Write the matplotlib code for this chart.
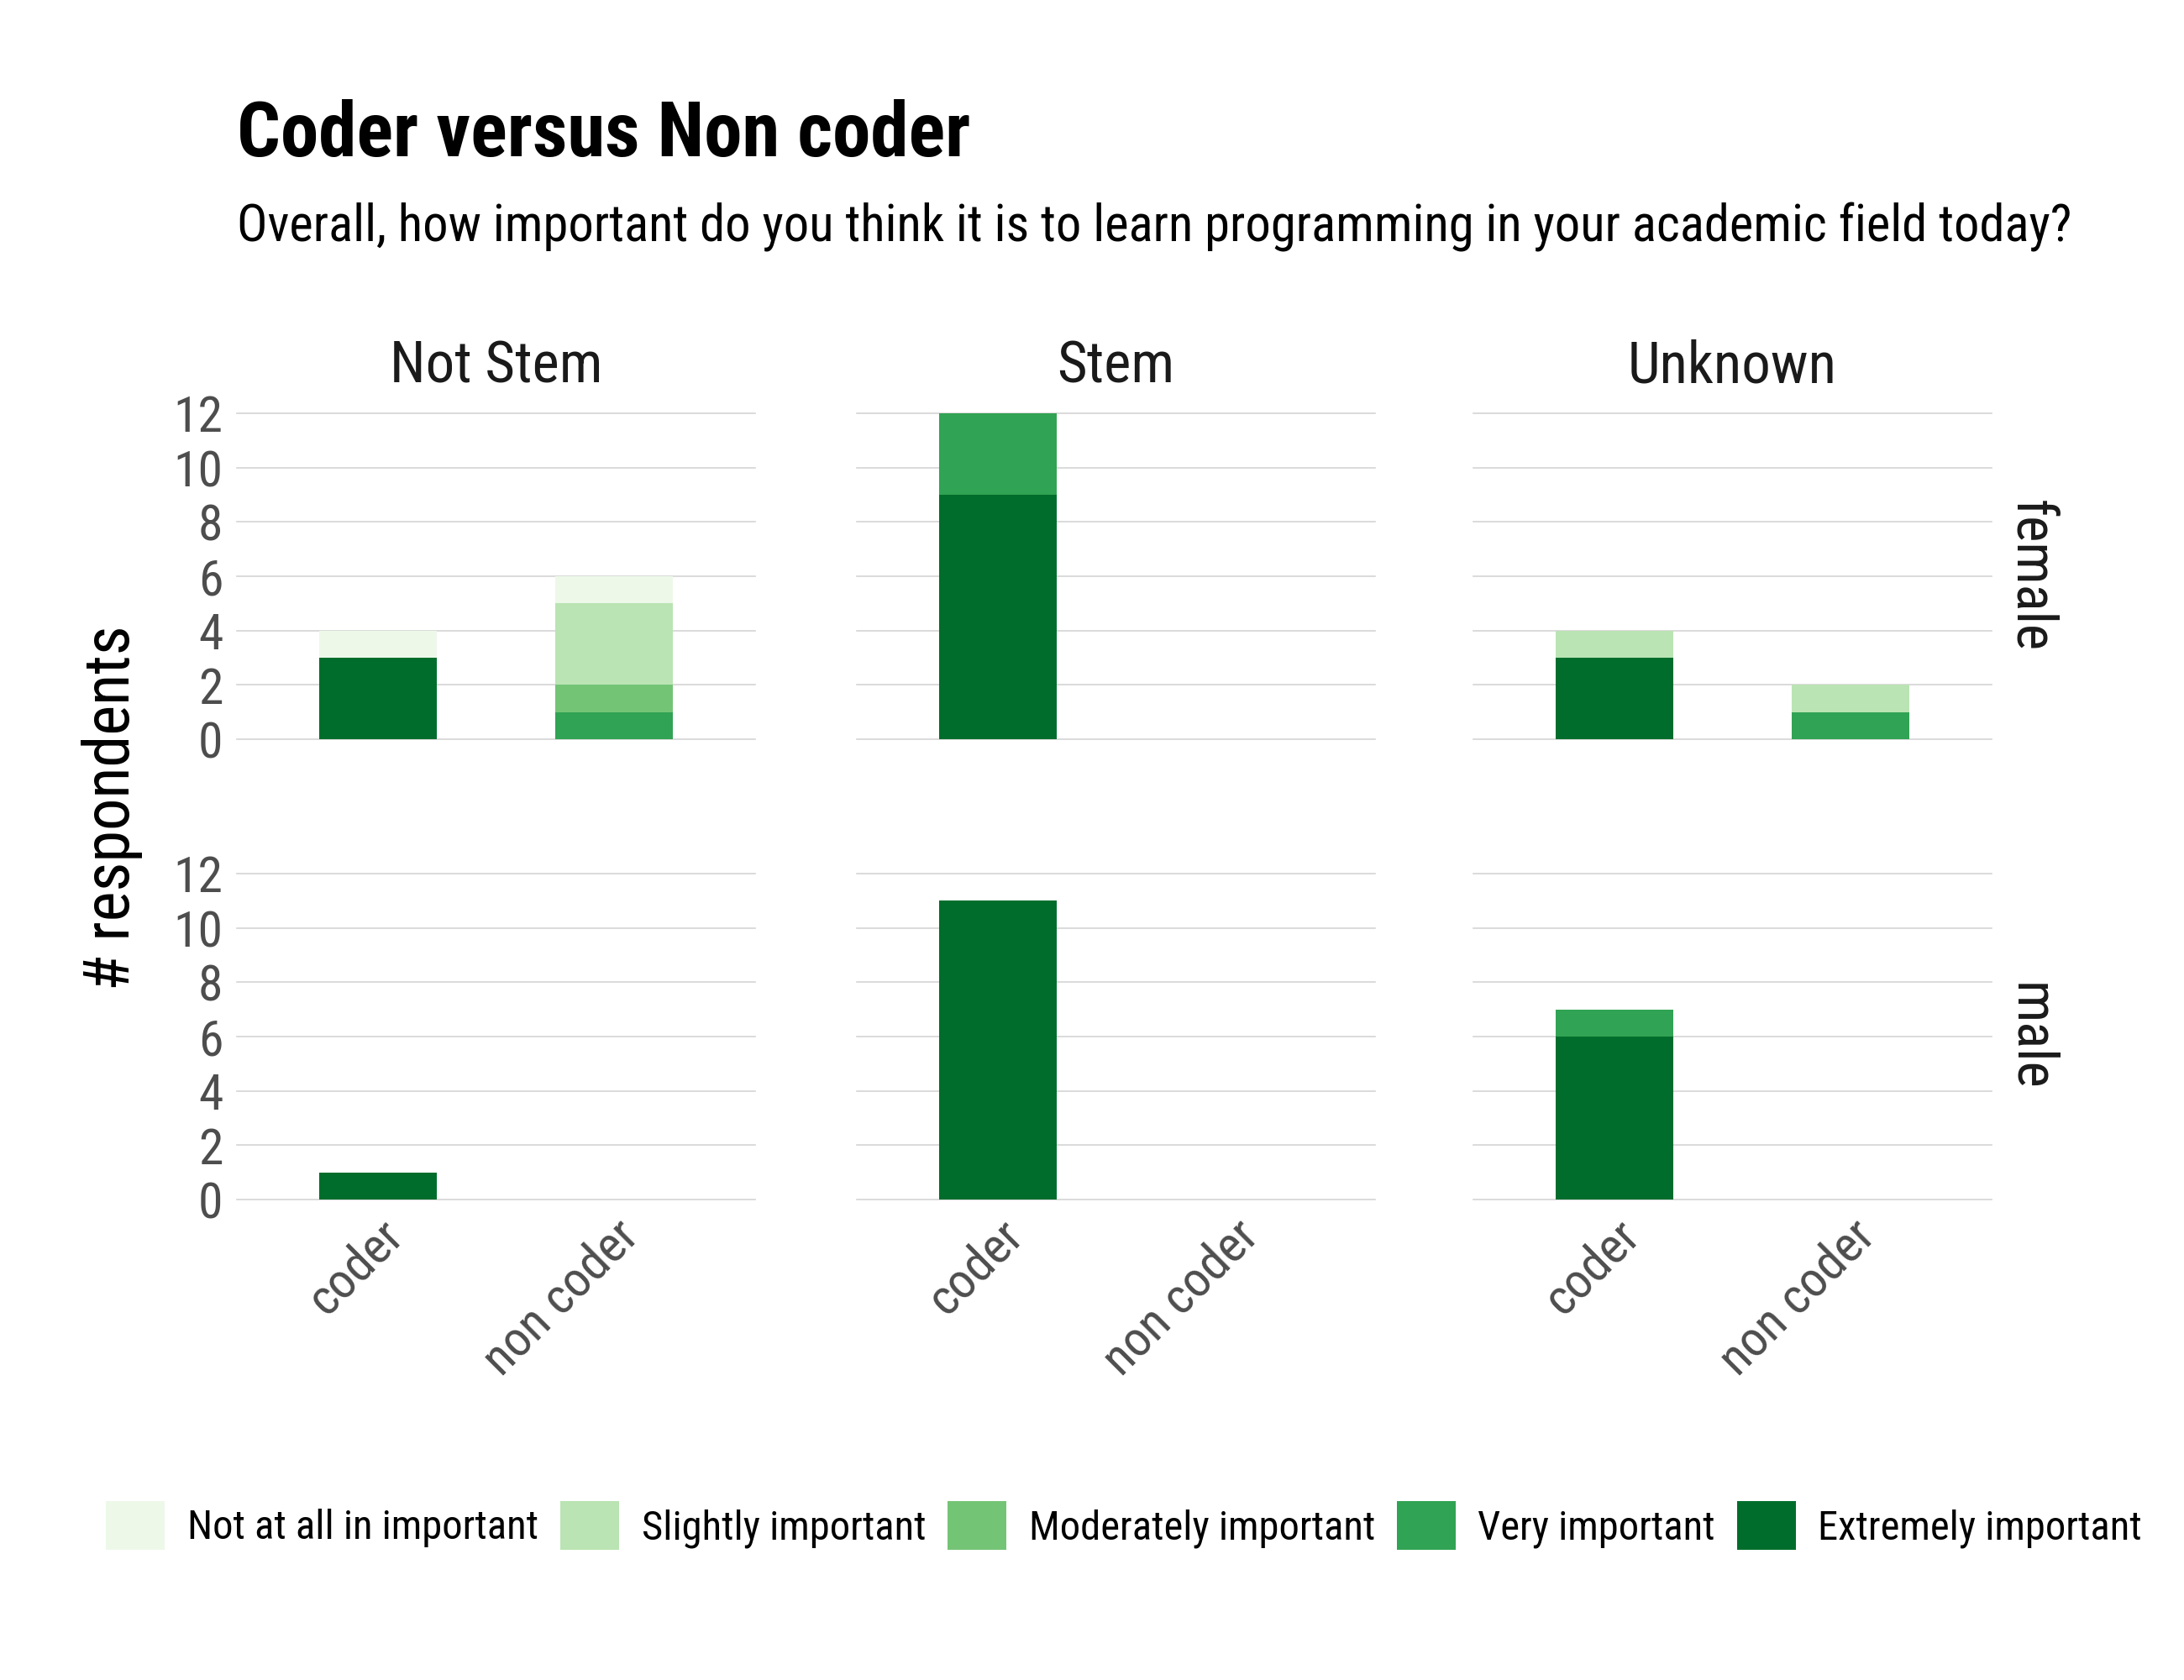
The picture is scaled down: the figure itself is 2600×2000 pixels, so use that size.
import matplotlib
matplotlib.use("Agg")
import matplotlib.pyplot as plt
from matplotlib.patches import Patch

plt.rcParams['font.family'] = ['Liberation Sans Narrow', 'Roboto Condensed', 'DejaVu Sans']

# facets and categories
fields = ['Not Stem', 'Stem', 'Unknown']
genders = ['female', 'male']
groups = ['coder', 'non coder']
levels = ['Not at all in important', 'Slightly important', 'Moderately important',
          'Very important', 'Extremely important']
colors = ['#edf8e9', '#bae4b3', '#74c476', '#31a354', '#006d2c']

# counts, ordered gender -> field -> group (coder, non coder)
not_at_all = [1, 1, 0, 0, 0, 0, 0, 0, 0, 0, 0, 0]
slightly = [0, 3, 0, 0, 1, 1, 0, 0, 0, 0, 0, 0]
moderately = [0, 1, 0, 0, 0, 0, 0, 0, 0, 0, 0, 0]
very = [0, 1, 3, 0, 0, 1, 0, 0, 0, 0, 1, 0]
extremely = [3, 0, 9, 0, 3, 0, 1, 0, 11, 0, 6, 0]
counts = [not_at_all, slightly, moderately, very, extremely]

W, H = 2600, 2000
fig = plt.figure(figsize=(26, 20), dpi=100)

col_left = [282, 1020, 1754]
panel_w = 617
row_top = [492, 1040]
panel_h = 388

for r, g in enumerate(genders):
    for c, f in enumerate(fields):
        ax = fig.add_axes([col_left[c] / W, 1 - (row_top[r] + panel_h) / H,
                           panel_w / W, panel_h / H])
        base = [0, 0]
        # stack from Extremely (bottom) up to Not at all (top)
        for li in range(len(levels) - 1, -1, -1):
            idx = (r * 3 + c) * 2
            vals = counts[li][idx:idx + 2]
            ax.bar([0, 1], vals, bottom=base, width=0.5, color=colors[li], linewidth=0)
            base = [base[0] + vals[0], base[1] + vals[1]]
        ax.set_xlim(-0.6, 1.6)
        ax.set_ylim(0, 12)
        ax.set_yticks([0, 2, 4, 6, 8, 10, 12])
        ax.grid(axis='y', color='#d4d4d4', linewidth=1.2)
        for gl in ax.get_ygridlines():
            gl.set_clip_on(False)
        ax.set_axisbelow(True)
        for s in ax.spines.values():
            s.set_visible(False)
        ax.tick_params(length=0, labelsize=43, labelcolor='#4d4d4d', pad=12)
        if c > 0:
            ax.set_yticklabels([])
        if r == 1:
            ax.set_xticks([0, 1])
            ax.set_xticklabels(groups, rotation=45, ha='right', va='top',
                               rotation_mode='anchor')
            ax.tick_params(axis='x', pad=10)
        else:
            ax.set_xticks([])
        if r == 0:
            ax.set_title(f, fontsize=49.5, color='#1a1a1a', pad=26)
        if c == 2:
            ax.text(1.0 + 45 / panel_w, 0.5, g, transform=ax.transAxes, rotation=-90,
                    fontsize=48, color='#1a1a1a', ha='center', va='center')

fig.text(133 / W, 1 - 962 / H, '# respondents', rotation=90, fontsize=55,
         ha='center', va='center', color='black')
fig.text(282 / W, 1 - 161 / H, 'Coder versus Non coder', fontsize=65.5,
         fontweight='bold', ha='left', va='center')
fig.text(282 / W, 1 - 270 / H, 'Overall, how important do you think it is to learn '
         'programming in your academic field today?', fontsize=43.7, ha='left', va='center')

handles = [Patch(facecolor=col, edgecolor='none', label=lab) for col, lab in zip(colors, levels)]
fig.legend(handles=handles, loc='center', bbox_to_anchor=(0.5147, 1 - 1816 / H), ncol=5,
           frameon=False, fontsize=35, handlelength=1.44, handleheight=1.48,
           handletextpad=0.55, columnspacing=0.53)

fig.savefig('out.png', dpi=100, facecolor='white')
